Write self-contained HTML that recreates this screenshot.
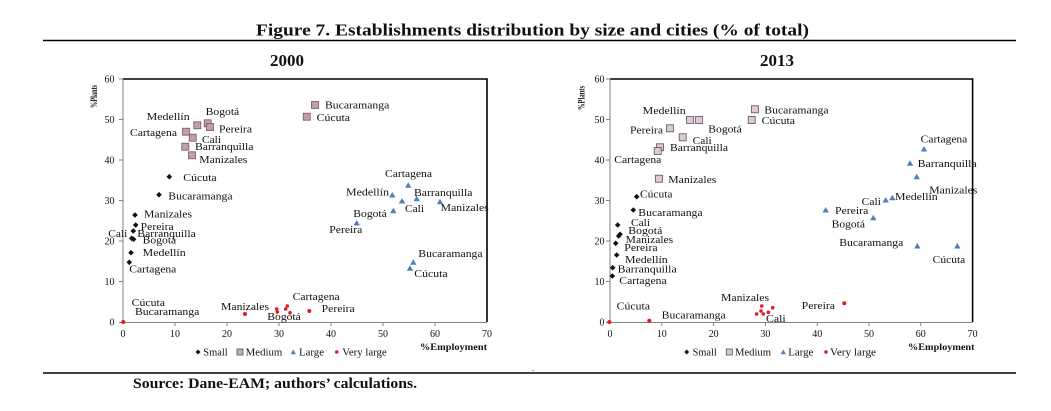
<!DOCTYPE html>
<html><head><meta charset="utf-8"><style>
html,body{margin:0;padding:0;background:#fff;}
svg{display:block;}
text{font-family:"Liberation Serif","DejaVu Serif",serif;fill:#111;}
.l{font-size:10px;}
.t{font-size:10px;fill:#222;}
.b{font-weight:bold;}
</style></head><body>
<svg width="1051" height="411" viewBox="0 0 1051 411" xmlns="http://www.w3.org/2000/svg">
<rect width="1051" height="411" fill="#fff"/>
<!-- title -->
<text x="256" y="35.5" class="b" font-size="17" textLength="553" lengthAdjust="spacingAndGlyphs">Figure 7. Establishments distribution by size and cities (% of total)</text>
<line x1="43" y1="40.5" x2="1016" y2="40.5" stroke="#000" stroke-width="1.6"/>
<text x="270" y="66" class="b" font-size="16.5" textLength="34" lengthAdjust="spacingAndGlyphs">2000</text>
<text x="760" y="66" class="b" font-size="16.5" textLength="34" lengthAdjust="spacingAndGlyphs">2013</text>

<!-- ============ LEFT CHART ============ -->
<g>
<line x1="123" y1="79" x2="487" y2="79" stroke="#000" stroke-width="1.6"/>
<line x1="487" y1="78.2" x2="487" y2="322" stroke="#000" stroke-width="1.6"/>
<line x1="123" y1="79" x2="123" y2="322.5" stroke="#808080" stroke-width="1"/>
<line x1="123" y1="322.5" x2="487" y2="322.5" stroke="#808080" stroke-width="1"/>
<g stroke="#808080" stroke-width="1">
<line x1="119" y1="79" x2="123" y2="79"/><line x1="119" y1="119.5" x2="123" y2="119.5"/><line x1="119" y1="160" x2="123" y2="160"/><line x1="119" y1="200.5" x2="123" y2="200.5"/><line x1="119" y1="241" x2="123" y2="241"/><line x1="119" y1="281.5" x2="123" y2="281.5"/><line x1="119" y1="322.5" x2="123" y2="322.5"/>
<line x1="175" y1="322.5" x2="175" y2="326"/><line x1="227" y1="322.5" x2="227" y2="326"/><line x1="279" y1="322.5" x2="279" y2="326"/><line x1="331" y1="322.5" x2="331" y2="326"/><line x1="383" y1="322.5" x2="383" y2="326"/><line x1="435" y1="322.5" x2="435" y2="326"/>
</g>
<g class="t" text-anchor="end">
<text x="114.5" y="82.5">60</text><text x="114.5" y="123">50</text><text x="114.5" y="163.5">40</text><text x="114.5" y="204">30</text><text x="114.5" y="244.5">20</text><text x="114.5" y="285">10</text><text x="114.5" y="325.5">0</text>
</g>
<g class="t" text-anchor="middle">
<text x="123" y="337">0</text><text x="175" y="337">10</text><text x="227" y="337">20</text><text x="279" y="337">30</text><text x="331" y="337">40</text><text x="383" y="337">50</text><text x="435" y="337">60</text><text x="487" y="337">70</text>
</g>
<text transform="translate(97,108) rotate(-90)" class="b" font-size="9" textLength="23" lengthAdjust="spacingAndGlyphs">%Plants</text>
<text x="420" y="350" class="b" font-size="9" textLength="67" lengthAdjust="spacingAndGlyphs">%Employment</text>

<!-- medium squares -->
<g fill="#c59ca8" stroke="#6e5a60" stroke-width="0.8">
<rect x="193.8" y="121.8" width="7" height="7"/><rect x="204.2" y="119.8" width="7" height="7"/><rect x="206.5" y="123.5" width="7" height="7"/><rect x="182.5" y="128.2" width="7" height="7"/><rect x="189.2" y="134.2" width="7" height="7"/><rect x="181.8" y="143.2" width="7" height="7"/><rect x="188.5" y="151.8" width="7" height="7"/><rect x="311.5" y="101.5" width="7" height="7"/><rect x="303.2" y="113.2" width="7" height="7"/>
</g>
<!-- small diamonds -->
<g fill="#111">
<polygon points="169.3,173.9 172.1,176.7 169.3,179.5 166.5,176.7"/>
<polygon points="159,191.9 161.8,194.7 159,197.5 156.2,194.7"/>
<polygon points="135,212.2 137.8,215 135,217.8 132.2,215"/>
<polygon points="135.7,222.2 138.5,225 135.7,227.8 132.9,225"/>
<polygon points="133.3,228.2 136.1,231 133.3,233.8 130.5,231"/>
<polygon points="131.7,235.5 134.5,238.3 131.7,241.1 128.9,238.3"/>
<polygon points="133.6,236.5 136.4,239.3 133.6,242.1 130.8,239.3"/>
<polygon points="131,249.9 133.8,252.7 131,255.5 128.2,252.7"/>
<polygon points="129.3,259.5 132.1,262.3 129.3,265.1 126.5,262.3"/>
</g>
<!-- large triangles -->
<g fill="#4f81bd">
<polygon points="408.3,182.3 411.5,187.8 405.1,187.8"/>
<polygon points="392.3,192 395.5,197.5 389.1,197.5"/>
<polygon points="416.7,195.7 419.9,201.2 413.5,201.2"/>
<polygon points="402,198 405.2,203.5 398.8,203.5"/>
<polygon points="440,198.7 443.2,204.2 436.8,204.2"/>
<polygon points="393.3,207.7 396.5,213.2 390.1,213.2"/>
<polygon points="356.7,220 359.9,225.5 353.5,225.5"/>
<polygon points="413.3,259.3 416.5,264.8 410.1,264.8"/>
<polygon points="410,265.3 413.2,270.8 406.8,270.8"/>
</g>
<!-- very large -->
<g fill="#e31b23">
<circle cx="123.3" cy="322" r="2"/><circle cx="245" cy="314" r="2"/><circle cx="276.7" cy="309" r="1.8"/><circle cx="277.3" cy="312" r="1.8"/><circle cx="285.7" cy="309" r="1.8"/><circle cx="287.3" cy="306" r="1.8"/><circle cx="290" cy="312.7" r="1.8"/><circle cx="309.3" cy="311" r="2"/>
</g>
<g class="l">
<text x="146.7" y="120" textLength="43" lengthAdjust="spacingAndGlyphs">Medellín</text>
<text x="205.7" y="115" textLength="33.5" lengthAdjust="spacingAndGlyphs">Bogotá</text>
<text x="219" y="132.5" textLength="33" lengthAdjust="spacingAndGlyphs">Pereira</text>
<text x="130" y="136" textLength="47" lengthAdjust="spacingAndGlyphs">Cartagena</text>
<text x="202" y="143" textLength="19" lengthAdjust="spacingAndGlyphs">Cali</text>
<text x="195" y="150" textLength="58.5" lengthAdjust="spacingAndGlyphs">Barranquilla</text>
<text x="199.3" y="163" textLength="48" lengthAdjust="spacingAndGlyphs">Manizales</text>
<text x="183.3" y="181" textLength="33.3" lengthAdjust="spacingAndGlyphs">Cúcuta</text>
<text x="168.3" y="199.5" textLength="64.3" lengthAdjust="spacingAndGlyphs">Bucaramanga</text>
<text x="144" y="217.5" textLength="48" lengthAdjust="spacingAndGlyphs">Manizales</text>
<text x="140.7" y="230" textLength="33" lengthAdjust="spacingAndGlyphs">Pereira</text>
<text x="108.3" y="237" textLength="19" lengthAdjust="spacingAndGlyphs">Cali</text>
<text x="137.3" y="237" textLength="58.5" lengthAdjust="spacingAndGlyphs">Barranquilla</text>
<text x="142.7" y="243.5" textLength="33.5" lengthAdjust="spacingAndGlyphs">Bogotá</text>
<text x="142.7" y="256" textLength="43" lengthAdjust="spacingAndGlyphs">Medellín</text>
<text x="129.3" y="272.5" textLength="47" lengthAdjust="spacingAndGlyphs">Cartagena</text>
<text x="131.7" y="306" textLength="33.3" lengthAdjust="spacingAndGlyphs">Cúcuta</text>
<text x="135" y="315" textLength="64.3" lengthAdjust="spacingAndGlyphs">Bucaramanga</text>
<text x="221" y="310" textLength="48" lengthAdjust="spacingAndGlyphs">Manizales</text>
<text x="267.3" y="320" textLength="33.5" lengthAdjust="spacingAndGlyphs">Bogotá</text>
<text x="292.7" y="300" textLength="47" lengthAdjust="spacingAndGlyphs">Cartagena</text>
<text x="321.7" y="312" textLength="33" lengthAdjust="spacingAndGlyphs">Pereira</text>
<text x="325" y="108.5" textLength="64.3" lengthAdjust="spacingAndGlyphs">Bucaramanga</text>
<text x="316.7" y="121" textLength="33.3" lengthAdjust="spacingAndGlyphs">Cúcuta</text>
<text x="385" y="177" textLength="47" lengthAdjust="spacingAndGlyphs">Cartagena</text>
<text x="346" y="195.5" textLength="43" lengthAdjust="spacingAndGlyphs">Medellín</text>
<text x="414" y="196" textLength="58.5" lengthAdjust="spacingAndGlyphs">Barranquilla</text>
<text x="405" y="212" textLength="19" lengthAdjust="spacingAndGlyphs">Cali</text>
<text x="440.7" y="211" textLength="48" lengthAdjust="spacingAndGlyphs">Manizales</text>
<text x="353.3" y="217" textLength="33.5" lengthAdjust="spacingAndGlyphs">Bogotá</text>
<text x="329.3" y="233" textLength="33" lengthAdjust="spacingAndGlyphs">Pereira</text>
<text x="418.3" y="257" textLength="64.3" lengthAdjust="spacingAndGlyphs">Bucaramanga</text>
<text x="414.3" y="277" textLength="33.3" lengthAdjust="spacingAndGlyphs">Cúcuta</text>
</g>
<!-- legend -->
<polygon points="198,349.5 200.5,352 198,354.5 195.5,352" fill="#111"/>
<text x="203.3" y="355.5" class="l" textLength="24.4" lengthAdjust="spacingAndGlyphs">Small</text>
<rect x="237" y="349" width="6" height="6" fill="#bfa9b2" stroke="#555" stroke-width="0.8"/>
<text x="245.7" y="355.5" class="l" textLength="36.6" lengthAdjust="spacingAndGlyphs">Medium</text>
<polygon points="293.3,349.5 296,354.3 290.6,354.3" fill="#4f81bd"/>
<text x="299" y="355.5" class="l" textLength="25" lengthAdjust="spacingAndGlyphs">Large</text>
<circle cx="336.7" cy="352" r="1.8" fill="#e31b23"/>
<text x="342.3" y="355.5" class="l" textLength="44.4" lengthAdjust="spacingAndGlyphs">Very large</text>
</g>

<!-- ============ RIGHT CHART ============ -->
<g>
<line x1="610" y1="79" x2="972.6" y2="79" stroke="#000" stroke-width="1.6"/>
<line x1="972.6" y1="78.2" x2="972.6" y2="322" stroke="#000" stroke-width="1.6"/>
<line x1="610" y1="79" x2="610" y2="322.5" stroke="#808080" stroke-width="1"/>
<line x1="610" y1="322.5" x2="972.6" y2="322.5" stroke="#808080" stroke-width="1"/>
<g stroke="#808080" stroke-width="1">
<line x1="606" y1="79" x2="610" y2="79"/><line x1="606" y1="119.5" x2="610" y2="119.5"/><line x1="606" y1="160" x2="610" y2="160"/><line x1="606" y1="200.5" x2="610" y2="200.5"/><line x1="606" y1="241" x2="610" y2="241"/><line x1="606" y1="281.5" x2="610" y2="281.5"/><line x1="606" y1="322.5" x2="610" y2="322.5"/>
<line x1="661.8" y1="322.5" x2="661.8" y2="326"/><line x1="713.6" y1="322.5" x2="713.6" y2="326"/><line x1="765.4" y1="322.5" x2="765.4" y2="326"/><line x1="817.2" y1="322.5" x2="817.2" y2="326"/><line x1="869" y1="322.5" x2="869" y2="326"/><line x1="920.8" y1="322.5" x2="920.8" y2="326"/>
</g>
<g class="t" text-anchor="end">
<text x="604.5" y="82.5">60</text><text x="604.5" y="123">50</text><text x="604.5" y="163.5">40</text><text x="604.5" y="204">30</text><text x="604.5" y="244.5">20</text><text x="604.5" y="285">10</text><text x="604.5" y="325.5">0</text>
</g>
<g class="t" text-anchor="middle">
<text x="610" y="337">0</text><text x="661.8" y="337">10</text><text x="713.6" y="337">20</text><text x="765.4" y="337">30</text><text x="817.2" y="337">40</text><text x="869" y="337">50</text><text x="920.8" y="337">60</text><text x="972.6" y="337">70</text>
</g>
<text transform="translate(584.5,110) rotate(-90)" class="b" font-size="9" textLength="24" lengthAdjust="spacingAndGlyphs">%Plants</text>
<text x="908" y="350" class="b" font-size="9" textLength="66.5" lengthAdjust="spacingAndGlyphs">%Employment</text>

<g fill="#dcc8d6" stroke="#5a4f55" stroke-width="0.8">
<rect x="751.5" y="105.8" width="7" height="7"/><rect x="686.5" y="116.5" width="7" height="7"/><rect x="695.5" y="116.5" width="7" height="7"/><rect x="748.2" y="116.5" width="7" height="7"/><rect x="666.5" y="124.8" width="7" height="7"/><rect x="679.2" y="133.8" width="7" height="7"/><rect x="656.5" y="143.8" width="7" height="7"/><rect x="654.2" y="147.5" width="7" height="7"/><rect x="655.5" y="175.2" width="7" height="7"/>
</g>
<g fill="#111">
<polygon points="636.7,193.9 639.5,196.7 636.7,199.5 633.9,196.7"/>
<polygon points="633.3,207.2 636.1,210 633.3,212.8 630.5,210"/>
<polygon points="617.7,222.2 620.5,225 617.7,227.8 614.9,225"/>
<polygon points="620,231.5 622.8,234.3 620,237.1 617.2,234.3"/>
<polygon points="618.7,233.2 621.5,236 618.7,238.8 615.9,236"/>
<polygon points="615.7,240.5 618.5,243.3 615.7,246.1 612.9,243.3"/>
<polygon points="616.7,252.2 619.5,255 616.7,257.8 613.9,255"/>
<polygon points="612.7,264.9 615.5,267.7 612.7,270.5 609.9,267.7"/>
<polygon points="612.3,273.2 615.1,276 612.3,278.8 609.5,276"/>
</g>
<g fill="#4f81bd">
<polygon points="924,146 927.2,151.5 920.8,151.5"/>
<polygon points="910,160.3 913.2,165.8 906.8,165.8"/>
<polygon points="916.7,173.7 919.9,179.2 913.5,179.2"/>
<polygon points="892.3,194.7 895.5,200.2 889.1,200.2"/>
<polygon points="885.7,197 888.9,202.5 882.5,202.5"/>
<polygon points="825.7,207 828.9,212.5 822.5,212.5"/>
<polygon points="873.3,214.7 876.5,220.2 870.1,220.2"/>
<polygon points="917.3,243 920.5,248.5 914.1,248.5"/>
<polygon points="957.3,243 960.5,248.5 954.1,248.5"/>
</g>
<g fill="#e31b23">
<circle cx="609.3" cy="322" r="2"/><circle cx="649.3" cy="320.7" r="2"/><circle cx="761.7" cy="306" r="1.8"/><circle cx="761" cy="311" r="1.8"/><circle cx="756.7" cy="314" r="1.8"/><circle cx="763.3" cy="314" r="1.8"/><circle cx="768.3" cy="312.3" r="1.8"/><circle cx="772.7" cy="307.7" r="1.8"/><circle cx="844.3" cy="303.3" r="2"/>
</g>
<g class="l">
<text x="764.3" y="113.5" textLength="64.3" lengthAdjust="spacingAndGlyphs">Bucaramanga</text>
<text x="642.7" y="114" textLength="43" lengthAdjust="spacingAndGlyphs">Medellín</text>
<text x="761.7" y="124" textLength="33.3" lengthAdjust="spacingAndGlyphs">Cúcuta</text>
<text x="630" y="133.5" textLength="33" lengthAdjust="spacingAndGlyphs">Pereira</text>
<text x="708.3" y="132.5" textLength="33.5" lengthAdjust="spacingAndGlyphs">Bogotá</text>
<text x="692.7" y="144" textLength="19" lengthAdjust="spacingAndGlyphs">Cali</text>
<text x="670" y="151" textLength="58" lengthAdjust="spacingAndGlyphs">Barranquilla</text>
<text x="614.3" y="163" textLength="47" lengthAdjust="spacingAndGlyphs">Cartagena</text>
<text x="668.3" y="183" textLength="48" lengthAdjust="spacingAndGlyphs">Manizales</text>
<text x="640" y="197.5" textLength="32.5" lengthAdjust="spacingAndGlyphs">Cúcuta</text>
<text x="638.3" y="216" textLength="64.3" lengthAdjust="spacingAndGlyphs">Bucaramanga</text>
<text x="631" y="226" textLength="19" lengthAdjust="spacingAndGlyphs">Cali</text>
<text x="628.3" y="234" textLength="34" lengthAdjust="spacingAndGlyphs">Bogotá</text>
<text x="625.7" y="243" textLength="47.5" lengthAdjust="spacingAndGlyphs">Manizales</text>
<text x="624.3" y="251" textLength="33.3" lengthAdjust="spacingAndGlyphs">Pereira</text>
<text x="625" y="263" textLength="42.7" lengthAdjust="spacingAndGlyphs">Medellín</text>
<text x="617.7" y="272.5" textLength="59" lengthAdjust="spacingAndGlyphs">Barranquilla</text>
<text x="619.3" y="284" textLength="47.4" lengthAdjust="spacingAndGlyphs">Cartagena</text>
<text x="616.7" y="309.5" textLength="33.3" lengthAdjust="spacingAndGlyphs">Cúcuta</text>
<text x="661.7" y="318.5" textLength="64" lengthAdjust="spacingAndGlyphs">Bucaramanga</text>
<text x="721" y="301" textLength="48" lengthAdjust="spacingAndGlyphs">Manizales</text>
<text x="766" y="322" textLength="19.7" lengthAdjust="spacingAndGlyphs">Cali</text>
<text x="920.7" y="142.5" textLength="46.6" lengthAdjust="spacingAndGlyphs">Cartagena</text>
<text x="917.7" y="167" textLength="59" lengthAdjust="spacingAndGlyphs">Barranquilla</text>
<text x="929.3" y="193.5" textLength="48" lengthAdjust="spacingAndGlyphs">Manizales</text>
<text x="895" y="200" textLength="42.7" lengthAdjust="spacingAndGlyphs">Medellín</text>
<text x="861.7" y="205" textLength="19.3" lengthAdjust="spacingAndGlyphs">Cali</text>
<text x="835" y="214" textLength="33.3" lengthAdjust="spacingAndGlyphs">Pereira</text>
<text x="831.7" y="227.5" textLength="33.3" lengthAdjust="spacingAndGlyphs">Bogotá</text>
<text x="839.3" y="246" textLength="64" lengthAdjust="spacingAndGlyphs">Bucaramanga</text>
<text x="932.7" y="263" textLength="32.6" lengthAdjust="spacingAndGlyphs">Cúcuta</text>
<text x="801.7" y="309" textLength="33.3" lengthAdjust="spacingAndGlyphs">Pereira</text>
</g>
<polygon points="686.7,349.5 689.2,352 686.7,354.5 684.2,352" fill="#111"/>
<text x="692.7" y="355.5" class="l" textLength="24" lengthAdjust="spacingAndGlyphs">Small</text>
<rect x="726.3" y="349" width="6" height="6" fill="#d7c8d2" stroke="#555" stroke-width="0.8"/>
<text x="735" y="355.5" class="l" textLength="36" lengthAdjust="spacingAndGlyphs">Medium</text>
<polygon points="783.3,349.5 786,354.3 780.6,354.3" fill="#4f81bd"/>
<text x="788.3" y="355.5" class="l" textLength="25" lengthAdjust="spacingAndGlyphs">Large</text>
<circle cx="826" cy="352" r="1.8" fill="#e31b23"/>
<text x="830" y="355.5" class="l" textLength="46" lengthAdjust="spacingAndGlyphs">Very large</text>
</g>

<!-- bottom -->
<line x1="43" y1="373" x2="1016" y2="373" stroke="#000" stroke-width="1.6"/>
<rect x="532.5" y="370" width="1" height="1" fill="#333"/>
<text x="133" y="388" class="b" font-size="15" textLength="284" lengthAdjust="spacingAndGlyphs">Source: Dane-EAM; authors’ calculations.</text>
</svg>
</body></html>
